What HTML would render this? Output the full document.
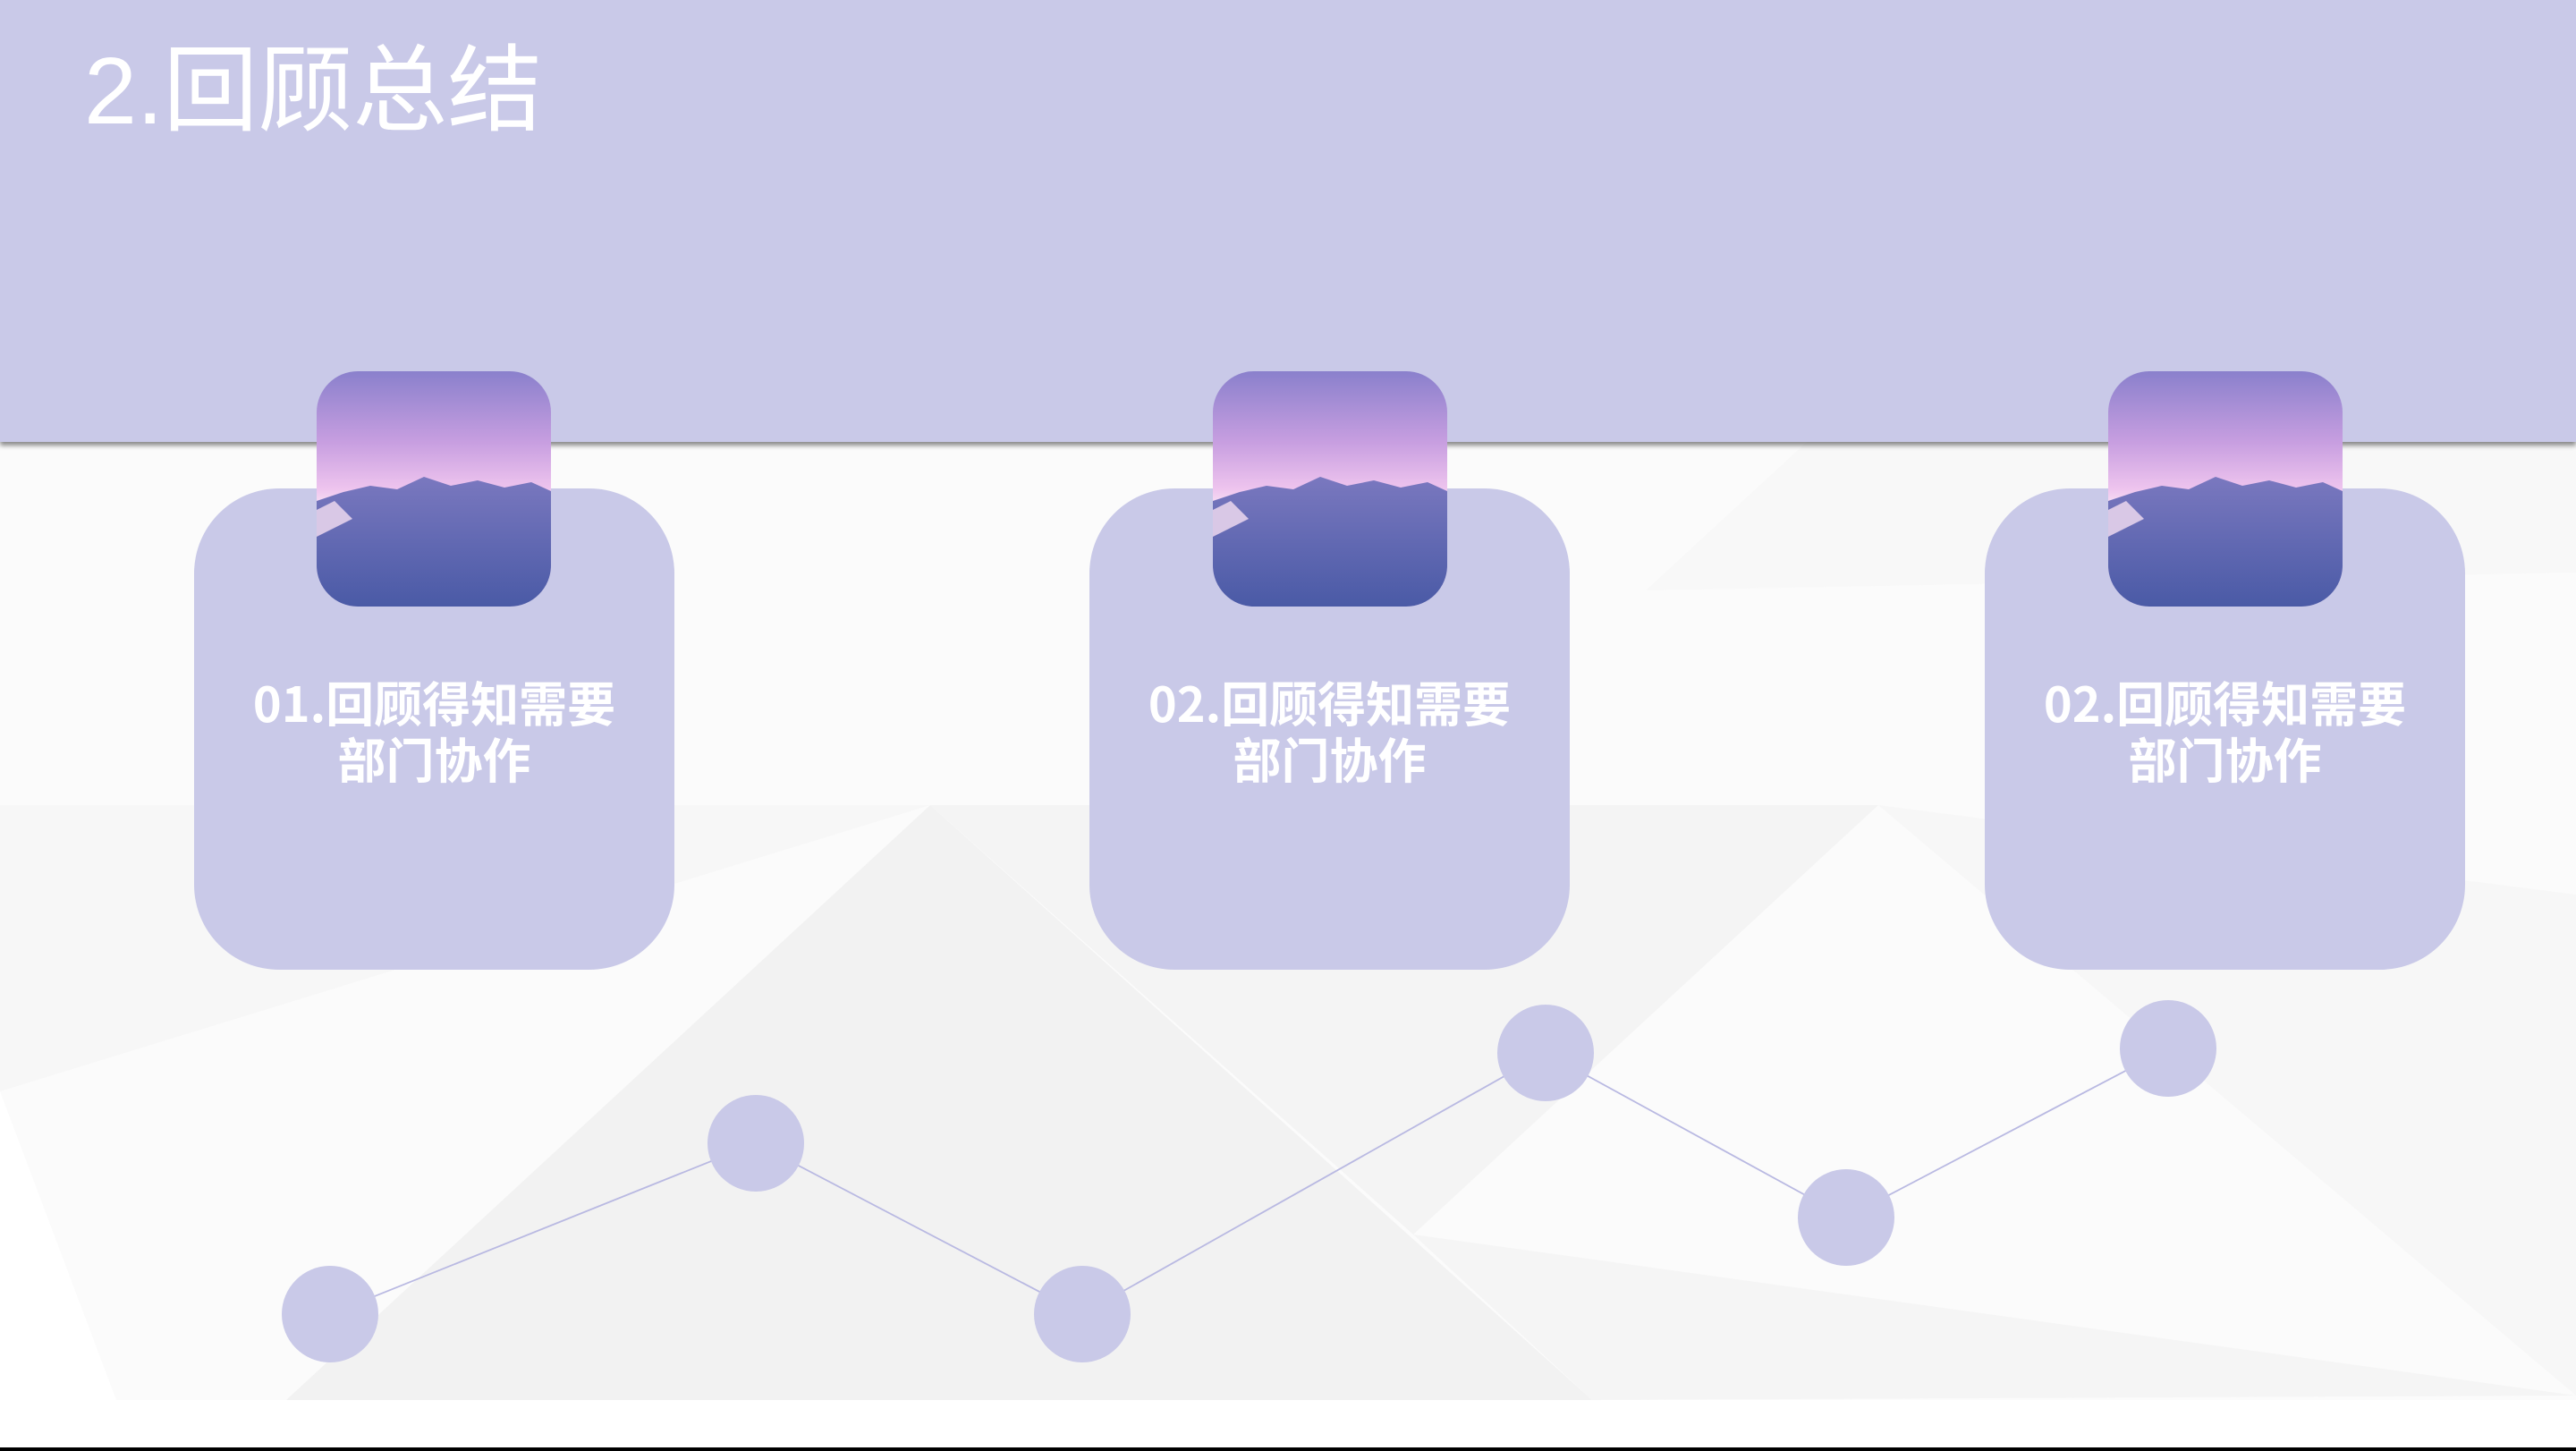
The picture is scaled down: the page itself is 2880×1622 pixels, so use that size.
<!DOCTYPE html>
<html><head><meta charset="utf-8"><style>
html,body{margin:0;padding:0}
body{width:2880px;height:1622px;position:relative;overflow:hidden;background:#fff;font-family:"Liberation Sans","Noto Sans CJK SC",sans-serif}
.hdr{position:absolute;left:0;top:0;width:2880px;height:494px;background:#c9c9e8;box-shadow:0 4px 5px rgba(0,0,0,.45)}
.title{position:absolute;left:94px;top:32px;font-size:106px;color:#fff;line-height:140px}
.card{position:absolute;top:546px;width:537px;height:538px;background:#c9c9e8;border-radius:95px}
.card .t{position:absolute;left:0;right:0;top:206px;text-align:center;color:#fff;font-weight:bold;font-size:54px;line-height:63px;font-family:"Noto Sans CJK SC",sans-serif}
.img{position:absolute;top:415px;width:262px;height:263px;border-radius:46px;overflow:hidden}
</style></head><body>
<svg style="position:absolute;left:0;top:0" width="2880" height="1622">
<polygon points="0,494 2880,494 2880,1565 130,1565 0,1220" fill="#fbfbfb"/>
<polygon points="320,1565 1040,900 1780,1565" fill="#f2f2f2"/>
<polygon points="1040,900 2100,900 1580,1380" fill="#f4f4f4"/>
<polygon points="0,900 1040,900 0,1220" fill="#f7f7f7"/>
<polygon points="1580,1380 2880,1560 1780,1565" fill="#f5f5f5"/>
<polygon points="2100,900 2880,1000 2880,1560" fill="#f7f7f7"/>
<polygon points="1840,660 2020,494 2880,494 2880,640" fill="#f8f8f8"/>
<polyline points="369,1469 845,1278 1210,1469 1728,1177 2064,1361 2424,1172" fill="none" stroke="#b9b9e2" stroke-width="1.8"/>
<g fill="#c9c9e8">
<circle cx="369" cy="1469" r="54"/><circle cx="845" cy="1278" r="54"/><circle cx="1210" cy="1469" r="54"/>
<circle cx="1728" cy="1177" r="54"/><circle cx="2064" cy="1361" r="54"/><circle cx="2424" cy="1172" r="54"/>
</g>
<rect x="0" y="1618" width="2880" height="4" fill="#000"/>
</svg>
<div class="hdr"></div>
<div class="title">2.回顾总结</div>
<div class="card" style="left:217px"><div class="t">01.回顾得知需要<br>部门协作</div></div>
<div class="card" style="left:1218px"><div class="t">02.回顾得知需要<br>部门协作</div></div>
<div class="card" style="left:2219px"><div class="t">02.回顾得知需要<br>部门协作</div></div>
<svg width="0" height="0" style="position:absolute"><defs>
<linearGradient id="sky" x1="0" y1="0" x2="0" y2="1">
<stop offset="0" stop-color="#8a80cc"/><stop offset="0.3" stop-color="#c79ee0"/><stop offset="0.5" stop-color="#eec4ee"/><stop offset="0.56" stop-color="#f6dcf3"/></linearGradient>
<linearGradient id="mt" x1="0" y1="0" x2="0" y2="1">
<stop offset="0" stop-color="#7a78bf"/><stop offset="1" stop-color="#4a5aa6"/></linearGradient>
</defs></svg>
<div class="img" style="left:354px"><svg width="262" height="263"><rect width="262" height="263" fill="url(#sky)"/><polygon points="0,145 30,135 60,128 90,132 120,118 150,128 180,122 210,130 240,124 262,134 262,263 0,263" fill="url(#mt)"/><polygon points="0,155 20,145 40,165 0,185" fill="#d9c8e6"/></svg></div>
<div class="img" style="left:1356px"><svg width="262" height="263"><rect width="262" height="263" fill="url(#sky)"/><polygon points="0,145 30,135 60,128 90,132 120,118 150,128 180,122 210,130 240,124 262,134 262,263 0,263" fill="url(#mt)"/><polygon points="0,155 20,145 40,165 0,185" fill="#d9c8e6"/></svg></div>
<div class="img" style="left:2357px"><svg width="262" height="263"><rect width="262" height="263" fill="url(#sky)"/><polygon points="0,145 30,135 60,128 90,132 120,118 150,128 180,122 210,130 240,124 262,134 262,263 0,263" fill="url(#mt)"/><polygon points="0,155 20,145 40,165 0,185" fill="#d9c8e6"/></svg></div>
</body></html>
